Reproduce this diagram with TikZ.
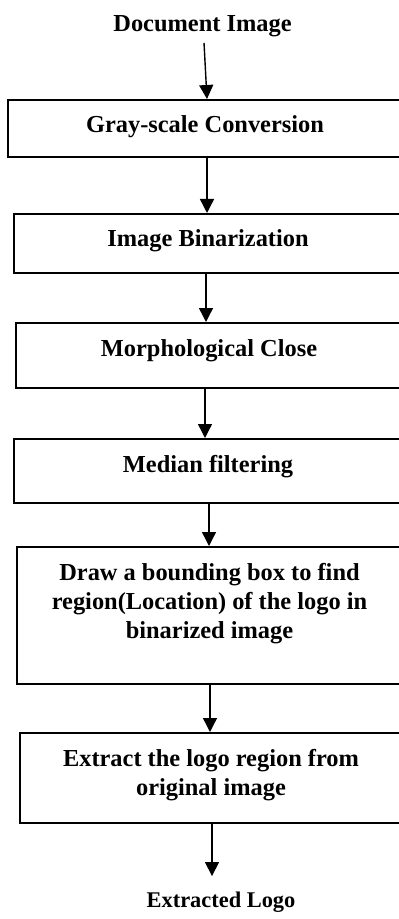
\documentclass[tikz,border=0pt]{standalone}
\usepackage{fontspec}
\setmainfont{Liberation Serif}
\usetikzlibrary{arrows.meta}

\begin{document}
\begin{tikzpicture}[x=0.5pt, y=-0.5pt, >={Triangle[width=7pt, length=7pt]},
    stage/.style={draw, line width=1pt, anchor=north, inner xsep=0pt, inner ysep=0pt,
        align=center, text height=16.5pt, font=\fontsize{12.2}{14.5}\selectfont\bfseries},
    flow/.style={->, line width=0.7pt}]

    \useasboundingbox (0,0) rectangle (398,919);

    \draw(202.5,32) node[anchor=base, inner sep=2.5pt,
        font=\fontsize{12.2}{14.5}\selectfont\bfseries] (D) {Document Image};

    % the boxes run on past the right edge
    \draw(205,99) node[stage, minimum width=197pt, text depth=12pt] (S1)
        {Gray-scale Conversion};
    \draw(208,213) node[stage, minimum width=194pt, text depth=13pt] (S2)
        {Image Binarization};
    \draw(209,322) node[stage, minimum width=193pt, text depth=16pt] (S3)
        {Morphological Close};
    \draw(208,438) node[stage, minimum width=194pt, text depth=15.5pt] (S4)
        {Median filtering};
    % text height counts every line above the last baseline
    \draw(209.5,546) node[stage, minimum width=192.5pt, text height=45.5pt,
        text depth=23pt] (S5)
        {Draw a bounding box to find\\ region(Location) of the logo in\\ binarized image};
    \draw(211,732) node[stage, minimum width=191pt, text height=31pt,
        text depth=14pt] (S6)
        {Extract the logo region from\\ original image};

    \draw(221,907) node[anchor=base, inner sep=2.5pt,
        font=\fontsize{11.2}{13.5}\selectfont\bfseries] (L) {Extracted Logo};

    \draw[flow] ([xshift=0.75pt]D.south) -- ([xshift=1pt]S1.north);
    \draw[flow] ([xshift=1pt]S1.south) -- ([xshift=-0.5pt]S2.north);
    \draw[flow] ([xshift=-1pt]S2.south) -- ([xshift=-1.5pt]S3.north);
    \draw[flow] ([xshift=-2pt]S3.south) -- ([xshift=-1.5pt]S4.north);
    \draw[flow] ([xshift=0.5pt]S4.south) -- ([xshift=-0.25pt]S5.north);
    \draw[flow] ([xshift=0.25pt]S5.south) -- ([xshift=-0.5pt]S6.north);
    \draw[flow, shorten >=5pt] ([xshift=0.5pt]S6.south) -- ([xshift=-4.5pt]L.north);

\end{tikzpicture}
\end{document}
